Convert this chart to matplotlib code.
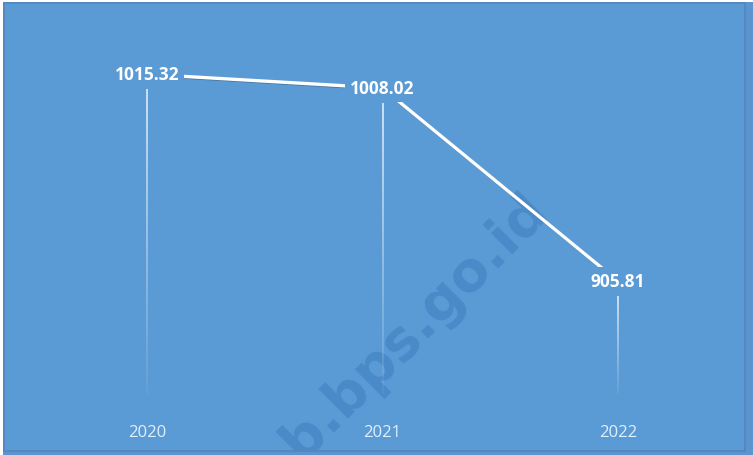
import matplotlib.pyplot as plt
import matplotlib.patheffects as pe
from matplotlib.collections import LineCollection
from matplotlib.patches import Rectangle
import numpy as np

years = ["2020", "2021", "2022"]
values = [1015.32, 1008.02, 905.81]

bg = "#5b9bd5"
W, H = 753, 456

fig = plt.figure(figsize=(W / 100, H / 100), dpi=100, facecolor="#5a95cf")
# thin white strips at the top and left edge
fig.add_artist(Rectangle((0, 1 - 3 / H), 1, 3 / H, transform=fig.transFigure,
                         facecolor="white", edgecolor="none", zorder=0))
fig.add_artist(Rectangle((0, 0), 3 / W, 1, transform=fig.transFigure,
                         facecolor="white", edgecolor="none", zorder=0))

ax = fig.add_axes([4 / W, 4 / H, (745 - 4) / W, (452 - 4) / H])
ax.set_facecolor(bg)
for s in ax.spines.values():
    s.set_color("#5586bd")
    s.set_linewidth(1.2)
ax.set_xticks([])
ax.set_yticks([])

x = np.arange(len(years))
ax.set_xlim(-0.607, 2.539)
ax.set_ylim(816, 1053)

# watermark, clipped to the plot area
wm = ax.text(550 / W, 1 - 212 / H, "kab.bps.go.id", fontsize=40, fontweight="bold",
             family="DejaVu Sans", color="#3f7dbf", alpha=0.55, rotation=45,
             rotation_mode="anchor", ha="right", va="baseline", zorder=1,
             transform=fig.transFigure, clip_on=True)
wm.set_clip_path(ax.patch)

# fading drop lines from each point down to the floor
y0, y1 = ax.get_ylim()
floor = y0 + 0.127 * (y1 - y0)
for xi, v in zip(x, values):
    top = v - 8
    ys = np.linspace(top, floor, 80)
    segs = [[(xi, ys[i]), (xi, ys[i + 1])] for i in range(len(ys) - 1)]
    alphas = np.linspace(0.75, 0.05, len(segs))
    cols = [(1, 1, 1, a) for a in alphas]
    ax.add_collection(LineCollection(segs, colors=cols, linewidths=1.3, zorder=2))

ax.plot(x, values, color="white", lw=2.4, solid_capstyle="butt", zorder=3,
        path_effects=[pe.SimpleLineShadow(offset=(0.6, -0.6), alpha=0.25),
                      pe.Normal()])

for xi, v in zip(x, values):
    ax.text(xi, v, f"{v:.2f}", ha="center", va="center", color="white",
            fontsize=12.5, fontweight="bold", family="Open Sans", zorder=4,
            bbox=dict(boxstyle="square,pad=0.3", facecolor=bg, edgecolor="none"))

for xi, lab in zip(x, years):
    ax.text(xi, 0.042, lab, transform=ax.get_xaxis_transform(), ha="center",
            va="center", color="#e0f0fc", fontsize=12, family="Open Sans", zorder=4)

fig.savefig("out.png", dpi=100, facecolor=fig.get_facecolor())
